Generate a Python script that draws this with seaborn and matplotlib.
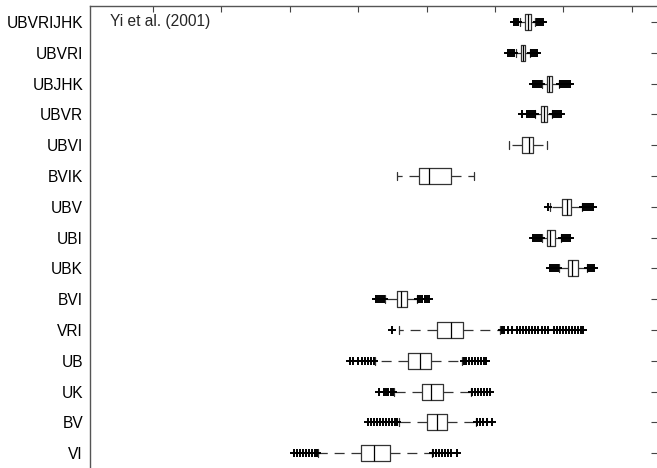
import numpy as np
import pandas as pd
import matplotlib
matplotlib.use('Agg')
import matplotlib.pyplot as plt
import seaborn as sns

# filter combinations, top to bottom
bands = ['UBVRIJHK', 'UBVRI', 'UBJHK', 'UBVR', 'UBVI', 'BVIK', 'UBV', 'UBI',
         'UBK', 'BVI', 'VRI', 'UB', 'UK', 'BV', 'VI']

# box statistics (arbitrary x units, ticks at 1..8)
whisker_lo = [6.37, 6.30, 6.68, 6.59, 6.21, 4.57, 6.81, 6.68, 6.93, 4.39, 4.60, 4.25, 4.52, 4.59, 3.41]
q1 = [6.44, 6.38, 6.76, 6.67, 6.40, 4.89, 6.98, 6.76, 7.07, 4.56, 5.15, 4.73, 4.94, 5.00, 4.04]
median = [6.48, 6.41, 6.79, 6.71, 6.49, 5.03, 7.05, 6.81, 7.13, 4.63, 5.35, 4.91, 5.07, 5.15, 4.23]
q3 = [6.52, 6.44, 6.84, 6.76, 6.56, 5.36, 7.11, 6.87, 7.21, 4.71, 5.53, 5.06, 5.24, 5.30, 4.46]
whisker_hi = [6.59, 6.51, 6.93, 6.83, 6.76, 5.69, 7.27, 6.96, 7.35, 4.86, 6.07, 5.52, 5.65, 5.72, 5.08]

# outliers per row ('+' markers)
outliers = [
    [6.28, 6.31, 6.34, 6.61, 6.64, 6.67, 6.70],
    [6.19, 6.22, 6.25, 6.28, 6.53, 6.56, 6.58, 6.61],
    [6.56, 6.58, 6.61, 6.64, 6.67, 6.95, 6.98, 7.01, 7.04, 7.07, 7.10],
    [6.39, 6.47, 6.50, 6.53, 6.56, 6.58, 6.85, 6.88, 6.91, 6.94, 6.96],
    [],
    [],
    [6.77, 7.29, 7.32, 7.35, 7.38, 7.41, 7.43],
    [6.56, 6.58, 6.61, 6.64, 6.67, 6.98, 7.01, 7.04, 7.07, 7.10],
    [6.80, 6.83, 6.86, 6.89, 6.92, 7.36, 7.39, 7.42, 7.45],
    [4.26, 4.29, 4.32, 4.35, 4.38, 4.88, 4.91, 4.94, 4.97, 5.00, 5.03],
    [4.49, 6.10, 6.13, 6.19, 6.25, 6.32, 6.37, 6.41, 6.45, 6.50, 6.54, 6.58, 6.63,
     6.69, 6.73, 6.77, 6.86, 6.91, 6.95, 6.99, 7.04, 7.08, 7.13, 7.17, 7.21, 7.26, 7.29],
    [3.88, 3.92, 4.00, 4.06, 4.10, 4.14, 4.19, 4.23,
     5.54, 5.58, 5.62, 5.66, 5.71, 5.75, 5.80, 5.84, 5.87],
    [4.30, 4.37, 4.41, 4.44, 4.48, 4.51, 5.66, 5.71, 5.75, 5.80, 5.84, 5.88, 5.92],
    [4.14, 4.19, 4.23, 4.27, 4.32, 4.36, 4.41, 4.45, 4.49, 4.54, 4.57,
     5.74, 5.78, 5.82, 5.88, 5.96],
    [3.06, 3.11, 3.15, 3.19, 3.24, 3.28, 3.32, 3.37, 3.40,
     5.10, 5.14, 5.18, 5.23, 5.27, 5.31, 5.36, 5.44],
]

# five values per row give exactly these quartiles; whiskers go to min/max
box_df = pd.DataFrame({
    'band': np.repeat(bands, 5),
    'value': np.column_stack([whisker_lo, q1, median, q3, whisker_hi]).ravel(),
})
out_df = pd.DataFrame([(b, v) for b, vals in zip(bands, outliers) for v in vals],
                      columns=['band', 'value'])

sns.set_style('white')
plt.rcParams['font.family'] = ['Liberation Sans', 'DejaVu Sans']
plt.rcParams['font.size'] = 11.2

fig = plt.figure(figsize=(6.57, 4.68), dpi=100)
ax = fig.add_axes([90 / 657, 1 - 467 / 468, 566.5 / 657, 461.3 / 468])

sns.boxplot(data=box_df, x='value', y='band', order=bands, orient='h',
            whis=(0, 100), width=0.52, fill=False, color='#333333', linewidth=0.9,
            showfliers=False,
            whiskerprops=dict(linestyle=(0, (8, 5.5))),
            medianprops=dict(color='black'), ax=ax)
sns.stripplot(data=out_df, x='value', y='band', order=bands, orient='h',
              jitter=False, marker='+', color='black', size=6, linewidth=1.4, ax=ax)

ax.set_xlim(0.079, 8.361)
ax.set_ylim(14.45, -0.53)
ax.set_xticks(range(1, 9))
ax.set_xticklabels([])
ax.set_xlabel('')
ax.set_ylabel('')
ax.tick_params(direction='in', top=True, right=True, length=4.5, width=0.8,
               color='#444444', labelcolor='black', pad=5)
for s in ax.spines.values():
    s.set_color('#555555')
    s.set_linewidth(1.0)
ax.spines['right'].set_visible(False)
ax.spines['bottom'].set_visible(False)

ax.text(0.035, 0.965, 'Yi et al. (2001)', transform=ax.transAxes,
        ha='left', va='center')

fig.savefig('out.png', dpi=100)
